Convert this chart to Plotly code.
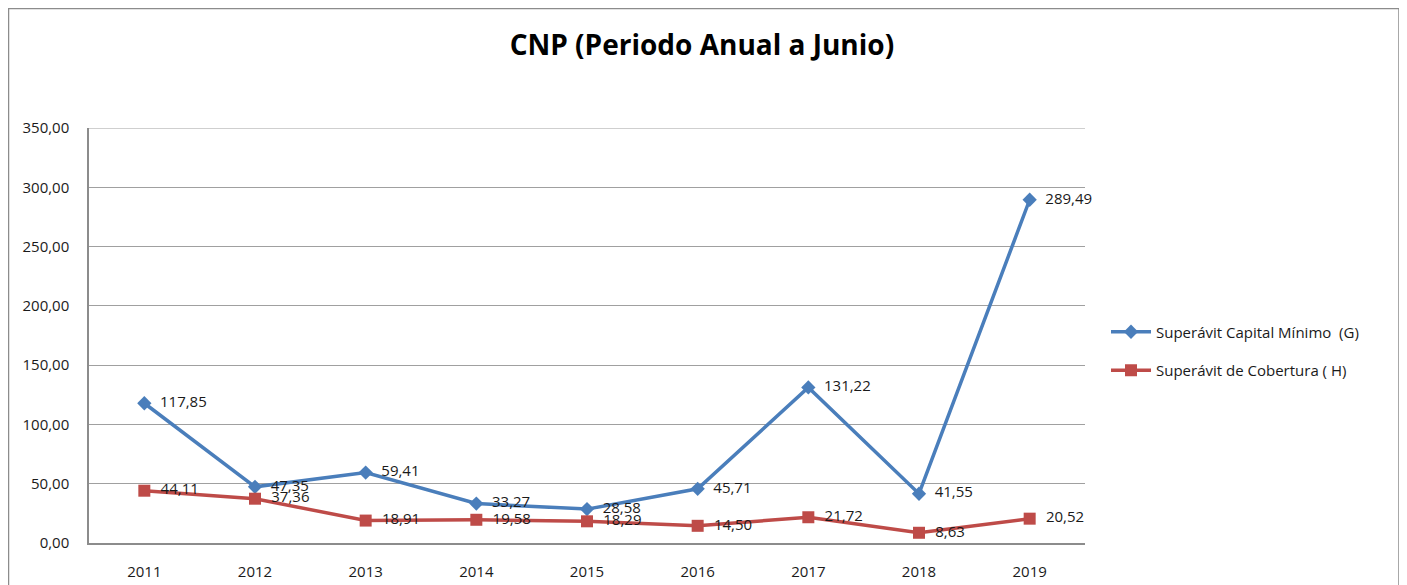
import plotly.graph_objects as go

years = ["2011", "2012", "2013", "2014", "2015", "2016", "2017", "2018", "2019"]
capital_minimo = [117.85, 47.35, 59.41, 33.27, 28.58, 45.71, 131.22, 41.55, 289.49]
cobertura = [44.11, 37.36, 18.91, 19.58, 18.29, 14.50, 21.72, 8.63, 20.52]
y_ticks = [0, 50, 100, 150, 200, 250, 300, 350]

# page body has an 8px margin, so the figure is drawn 8px smaller
W, H = 1399, 577
L, R, T, B = 81, 322, 120, 42
FONT = "Open Sans"


def fmt(v):
    return "  " + f"{v:.2f}".replace(".", ",")


def px_x(x):
    return (x - L) / (W - L - R)


def px_y(y):
    return (H - B - y) / (H - T - B)


fig = go.Figure()
fig.add_trace(go.Scatter(
    x=years, y=capital_minimo, name="Superávit Capital Mínimo  (G)",
    legendgroup="g", mode="lines+markers+text", cliponaxis=False,
    line=dict(color="#4a7ebb", width=3.5),
    marker=dict(symbol="diamond", size=11, color="#4a7ebb"),
    text=[fmt(v) for v in capital_minimo], textposition="middle right",
    textfont=dict(size=15, color="#1a1a1a", family=FONT),
))
fig.add_trace(go.Scatter(
    x=years, y=cobertura, name="Superávit de Cobertura ( H)",
    legendgroup="h", mode="lines+markers+text", cliponaxis=False,
    line=dict(color="#be4b48", width=3.5),
    marker=dict(symbol="square", size=12, color="#be4b48"),
    text=[fmt(v) for v in cobertura], textposition="middle right",
    textfont=dict(size=15, color="#1a1a1a", family=FONT),
))

fig.update_layout(
    width=W, height=H,
    margin=dict(l=L, r=R, t=T, b=B),
    paper_bgcolor="white", plot_bgcolor="white",
    font=dict(family=FONT, size=15, color="#1a1a1a"),
    title=dict(text="<b>CNP (Periodo Anual a Junio)</b>", x=0.496, xanchor="center",
               y=1 - 37 / H, yanchor="middle", font=dict(size=28, color="black")),
    separators=",.",
    legend=dict(x=px_x(1098), y=px_y(343), xanchor="left", yanchor="middle",
                font=dict(size=15), itemwidth=40, tracegroupgap=16,
                bgcolor="rgba(0,0,0,0)"),
    shapes=[
        dict(type="rect", xref="paper", yref="paper",
             x0=px_x(0.5), x1=px_x(1391), y0=px_y(600), y1=px_y(0.5),
             line=dict(color="#8c8c8c", width=1.5)),
        # top gridline (plotly drops the one sitting on the plot edge)
        dict(type="line", xref="paper", yref="y", x0=0, x1=1, y0=350, y1=350,
             line=dict(color="#a0a0a0", width=1.2), layer="below"),
    ],
)
fig.update_xaxes(type="category", range=[-0.5, 8.5], showgrid=False,
                 showline=True, linecolor="#8c8c8c", linewidth=1.5,
                 ticks="", ticklabelstandoff=14, tickfont=dict(size=15),
                 automargin=False)
fig.update_yaxes(range=[0, 350], tickvals=y_ticks, tickformat=".2f",
                 showgrid=True, gridcolor="#a0a0a0", gridwidth=1.2,
                 showline=True, linecolor="#8c8c8c", linewidth=1.5,
                 zeroline=False, ticks="", ticklabelstandoff=15,
                 tickfont=dict(size=15), automargin=False)

fig.write_html("out.html")
